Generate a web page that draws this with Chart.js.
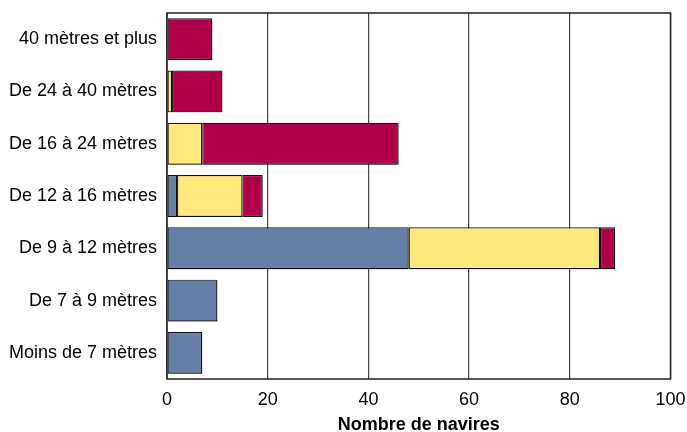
<!DOCTYPE html>
<html>
<head>
<meta charset="utf-8">
<script src="https://cdn.jsdelivr.net/npm/chart.js@4"></script>
<style>
  html, body { margin: 0; padding: 0; background: #fff; }
  #wrap { width: 687px; height: 432px; position: relative; }
</style>
</head>
<body>
<div id="wrap"><canvas id="c"></canvas></div>
<script>
const categories = ["40 mètres et plus", "De 24 à 40 mètres", "De 16 à 24 mètres", "De 12 à 16 mètres", "De 9 à 12 mètres", "De 7 à 9 mètres", "Moins de 7 mètres"];
const seriesBlue = [0, 0, 0, 2, 48, 10, 7];
const seriesYellow = [0, 1, 7, 13, 38, 0, 0];
const seriesCrimson = [9, 10, 39, 4, 3, 0, 0];
const xTicks = [0, 20, 40, 60, 80, 100];
const xTitle = "Nombre de navires";

const FONT = "'Liberation Sans', Arial, sans-serif";

const frame = {
  id: 'frame',
  afterDatasetsDraw(chart) {
    const a = chart.chartArea, ctx = chart.ctx;
    ctx.save();
    ctx.strokeStyle = '#222';
    ctx.lineWidth = 1.5;
    ctx.strokeRect(a.left, a.top, a.right - a.left, a.bottom - a.top);
    ctx.restore();
  }
};

const shadow = {
  id: 'shadow',
  beforeDatasetsDraw(chart) {
    const ctx = chart.ctx;
    ctx.save();
    ctx.shadowColor = 'rgba(0,0,0,0.3)';
    ctx.shadowOffsetX = 1.5;
    ctx.shadowOffsetY = 1.5;
    ctx.shadowBlur = 0;
  },
  afterDatasetsDraw(chart) {
    chart.ctx.restore();
  }
};

const mk = (label, data, color) => ({
  label, data,
  backgroundColor: color,
  borderColor: '#111',
  borderWidth: 1.2,
  borderSkipped: false,
  categoryPercentage: 0.8,
  barPercentage: 1.0
});

new Chart(document.getElementById('c'), {
  type: 'bar',
  data: {
    labels: categories,
    datasets: [
      mk('Bleu', seriesBlue, '#657fa7'),
      mk('Jaune', seriesYellow, '#ffe87c'),
      mk('Rouge', seriesCrimson, '#b0004a')
    ]
  },
  options: {
    indexAxis: 'y',
    responsive: true,
    maintainAspectRatio: false,
    animation: false,
    devicePixelRatio: 1,
    layout: { padding: { left: 0, right: 16.5, top: 13, bottom: 0 } },
    plugins: {
      legend: { display: false },
      tooltip: { enabled: false }
    },
    scales: {
      x: {
        stacked: true,
        min: 0, max: 100,
        afterBuildTicks(scale) { scale.ticks = xTicks.map(v => ({ value: v })); },
        afterFit(scale) { scale.height = 53; scale.paddingLeft = 0; scale.paddingRight = 0; },
        grid: { display: true, color: '#444', lineWidth: 1.2, drawTicks: false },
        border: { display: false },
        ticks: { color: '#000', font: { family: FONT, size: 18 }, padding: 10 },
        title: { display: true, text: xTitle, color: '#000', font: { family: FONT, size: 18, weight: 'bold' }, padding: { top: 4, bottom: -3.5 } }
      },
      y: {
        stacked: true,
        afterFit(scale) { scale.width = 167; scale.paddingTop = 0; scale.paddingBottom = 0; },
        grid: { display: false, drawTicks: false },
        border: { display: false },
        ticks: { color: '#000', font: { family: FONT, size: 18 }, padding: 10 }
      }
    }
  },
  plugins: [shadow, frame]
});
</script>
</body>
</html>
